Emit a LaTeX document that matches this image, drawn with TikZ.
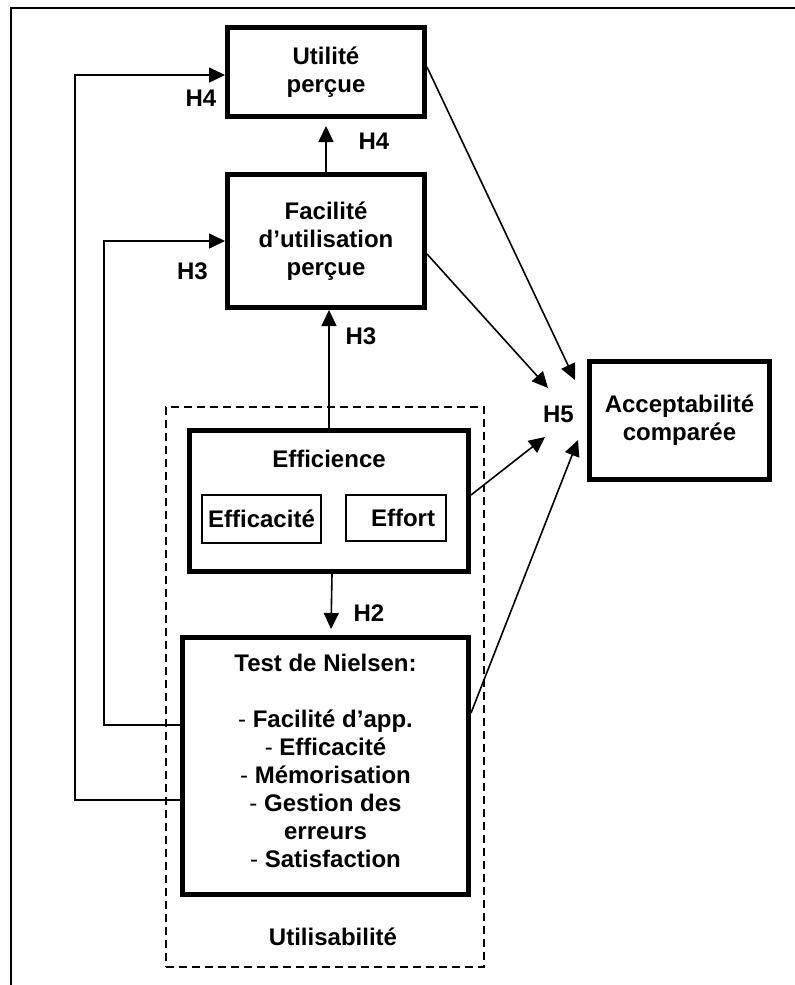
\documentclass[tikz,border=0pt]{standalone}
\usepackage{fontspec}
\setmainfont{Liberation Sans}
\usepackage{tikz}
\usetikzlibrary{arrows.meta,positioning,calc}
\newcommand\dfont{\fontsize{12pt}{14pt}\selectfont\bfseries}
\tikzset{
  box/.style={draw, line width=2.5pt, align=center, inner sep=0pt, font=\dfont},
  subbox/.style={draw, line width=1pt, inner sep=0pt, font=\dfont},
  lbl/.style={inner sep=0pt, font=\dfont},
  arr/.style={-{Triangle[length=8pt, width=7.5pt]}, line width=0.8pt},
}

\begin{document}
\begin{tikzpicture}[x=0.5pt, y=-0.5pt,
  dashbox/.style={draw, line width=0.6pt, dash pattern=on 4pt off 2.5pt}]
  \useasboundingbox (0,0) rectangle (795,985);
  \draw[line width=1pt] (795,8) -- (11,8) -- (11,985);
  % usability frame
  \node[dashbox, minimum width=159pt, minimum height=280pt] (usab) at (325,687) {};
  \node[lbl] (usabT) at (333,937) {Utilisabilité};
  % main boxes
  \node[box, minimum width=98.5pt, minimum height=44.5pt] (util) at (326,72) {Utilité\\perçue};
  \node[box, minimum width=98.5pt, minimum height=66.5pt, below=26.5pt of util] (facil) {Facilité\\d’utilisation\\perçue};
  \node[box, minimum width=139.5pt, minimum height=70.5pt, below=59pt of facil, xshift=1.5pt] (effic) {};
  \node[lbl, below=11pt of effic.north] (efficT) {Efficience};
  \node[subbox, minimum width=59.5pt, minimum height=24pt] (effica) at ($(effic)+(-67.5,18)$) {Efficacité};
  \node[subbox, minimum width=50pt, minimum height=23pt] (effort) at ($(effic)+(67,17)$) {\hspace*{7pt}Effort};
  \node[box, minimum width=143pt, minimum height=128.5pt, text depth=5pt, below=30.5pt of effic, xshift=-1.75pt] (test)
    {Test de Nielsen:\\[14pt]
     {\mdseries -} Facilité d’app.\\
     {\mdseries -} Efficacité\\
     {\mdseries -} Mémorisation\\
     {\mdseries -} Gestion des\\
     erreurs\\
     {\mdseries -} Satisfaction};
  \node[box, minimum width=90pt, minimum height=59pt] (accept) at (679.5,420.5) {Acceptabilité\\comparée};
  % hypotheses
  \node[lbl] (h4a) at (201,98) {H4};
  \node[lbl] (h4b) at (374,141) {H4};
  \node[lbl] (h3a) at (192.5,271) {H3};
  \node[lbl] (h3b) at (361,336) {H3};
  \node[lbl] (h2) at (369,613) {H2};
  \node[lbl] (h5) at (558.5,414) {H5};
  \coordinate (in5a) at ($(h5)+(16.5,-34)$);
  \coordinate (in5b) at ($(h5)+(-10.5,-26)$);
  \coordinate (in5c) at ($(h5)+(-13.5,23)$);
  \coordinate (in5d) at ($(h5)+(19.5,26)$);
  % connectors
  \draw[arr, shorten >=3.5pt] (facil.north) -- (util.south);
  \draw[arr] (effic.north) -- (effic.north |- facil.south);
  \draw[arr] ($(effic.south)+(3,0)$) -- ($(test.north)+(5.5,-6)$);
  \draw[arr] ($(test.west)+(0,34)$) -| ($(util.west)+(-150,3)$) -- ($(util.west)+(0,3)$);
  \draw[arr] ($(test.west)+(0,-41)$) -| ($(facil.west)+(-121,0)$) -- (facil.west);
  \draw[arr] ($(util.east)+(0,-5)$) -- (in5a);
  \draw[arr] ($(facil.east)+(0,13)$) -- (in5b);
  \draw[arr] ($(effic.east)+(0,-6)$) -- (in5c);
  \draw[arr] ($(test.east)+(0,-53)$) -- (in5d);
\end{tikzpicture}
\end{document}
